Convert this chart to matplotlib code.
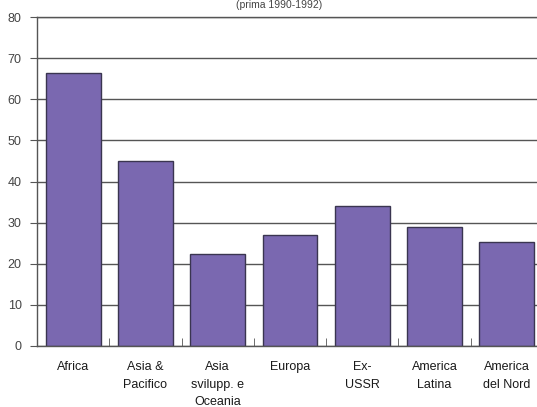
import numpy as np
import matplotlib.pyplot as plt

categories = ['Africa', 'Asia &\nPacifico', 'Asia\nsvilupp. e\nOceania', 'Europa',
              'Ex-\nUSSR', 'America\nLatina', 'America\ndel Nord']
values = [66.3, 45.1, 22.4, 27.0, 34.1, 29.0, 25.2]
yticks = [0, 10, 20, 30, 40, 50, 60, 70, 80]

plt.rcParams['font.family'] = ['Liberation Sans', 'DejaVu Sans']

fig = plt.figure(figsize=(5.37, 4.07), dpi=100)
ax = fig.add_axes([0.069, 0.150, 0.942, 0.808])

x = np.arange(len(categories))
ax.set_axisbelow(True)
ax.yaxis.grid(True, color='#555555', linewidth=1.0)
ax.bar(x, values, width=0.76, color='#7a68b0', edgecolor='#3a3550', linewidth=1.0)

ax.set_xlim(-0.5, len(categories) - 0.5)
ax.set_ylim(0, 80)
ax.set_yticks(yticks)
ax.set_yticklabels([str(v) for v in yticks], fontsize=9, color='#444444')

ax.set_xticks(x)
ax.set_xticklabels(categories, fontsize=9, color='#1a1a1a', linespacing=1.6)
ax.tick_params(axis='x', length=0, pad=11)
ax.set_xticks(np.arange(len(categories) + 1) - 0.5, minor=True)
ax.tick_params(axis='x', which='minor', direction='in', length=6, color='#555555')
ax.tick_params(axis='y', direction='out', length=5, color='#555555', pad=6)

for side in ['left', 'top', 'bottom', 'right']:
    ax.spines[side].set_color('#555555')
    ax.spines[side].set_linewidth(1.0)

fig.text(0.52, 0.999, '(prima 1990-1992)', ha='center', va='top',
         fontsize=7.5, color='#444444')

fig.savefig('out.png', dpi=100)
